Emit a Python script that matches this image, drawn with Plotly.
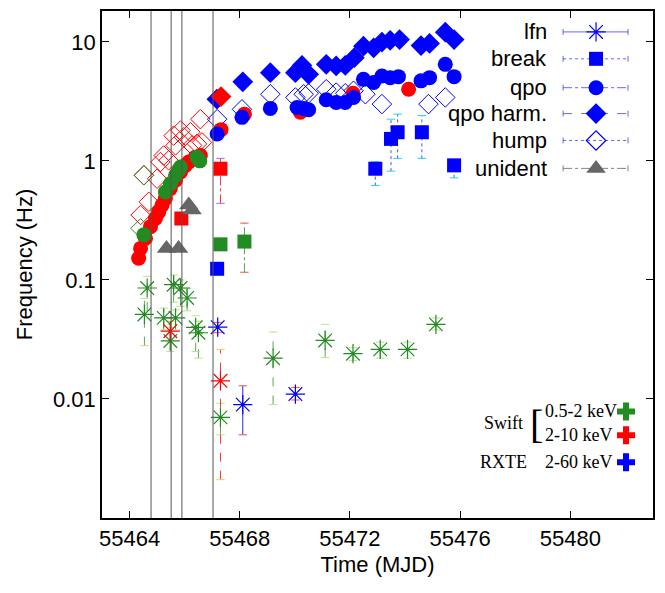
import plotly.graph_objects as go

GREEN = "#228B22"
RED = "#FF0000"
BLUE = "#0000FF"
GRAY = "#666666"

# ---------------- data (MJD, Hz) ----------------
# vertical reference lines (MJD)
vlines = [55464.78, 55465.51, 55465.90, 55467.03]

# lfn (asterisks)
lfn_g_x = [55464.64, 55464.54, 55465.60, 55465.85, 55466.09, 55465.24, 55465.67, 55465.48,
           55466.40, 55466.50, 55467.30, 55469.21, 55471.10, 55472.11, 55473.10, 55474.09, 55475.12]
lfn_g_y = [0.0855, 0.0513, 0.0912, 0.0855, 0.0705, 0.048, 0.048, 0.0307,
           0.040, 0.036, 0.0070, 0.022, 0.031, 0.024, 0.0261, 0.0261, 0.0423]
lfn_g_hi = [0.107, 0.070, 0.110, 0.100, 0.085, 0.058, 0.056, 0.040,
            0.050, 0.045, 0.0092, 0.0365, 0.0423, 0.027, 0.030, 0.030, 0.048]
lfn_g_lo = [0.055, 0.028, 0.065, 0.060, 0.055, 0.038, 0.038, 0.025,
            0.025, 0.022, 0.0050, 0.0090, 0.0223, 0.021, 0.022, 0.022, 0.038]

lfn_r_x = [55465.48, 55467.30]
lfn_r_y = [0.0371, 0.0142]
lfn_r_hi = [0.045, 0.0261]
lfn_r_lo = [0.030, 0.0021]

lfn_b_x = [55467.20, 55468.11, 55470.02]
lfn_b_y = [0.0401, 0.00896, 0.011]
lfn_b_hi = [0.044, 0.0129, 0.0125]
lfn_b_lo = [0.036, 0.0050, 0.0098]

# break (squares)
brk_g_x = [55467.30, 55468.17]
brk_g_y = [0.199, 0.210]
brk_g_hi = [0.215, 0.300]
brk_g_lo = [0.185, 0.116]

brk_r_x = [55465.88, 55467.30]
brk_r_y = [0.328, 0.859]
brk_r_hi = [0.36, 1.05]
brk_r_lo = [0.30, 0.44]

brk_b_x = [55467.18, 55472.92, 55473.49, 55473.73, 55474.61, 55475.78]
brk_b_y = [0.124, 0.859, 1.53, 1.74, 1.74, 0.917]
brk_b_hi = [0.13, 0.98, 2.24, 2.47, 2.40, 1.0]
brk_b_lo = [0.118, 0.62, 0.82, 1.05, 1.05, 0.72]

# qpo (circles)
qpo_g_x = [55464.52, 55465.30, 55465.48, 55465.67, 55465.79, 55465.85, 55466.45, 55466.55]
qpo_g_y = [0.239, 0.548, 0.643, 0.757, 0.838, 0.887, 1.075, 1.00]

qpo_r_x = [55464.33, 55464.40, 55464.58, 55464.76, 55464.94, 55465.06, 55465.18, 55465.30,
           55465.48, 55465.67, 55465.85, 55466.03, 55466.15, 55466.39, 55466.57,
           55467.32, 55468.17, 55470.20, 55472.11, 55474.13]
qpo_r_y = [0.152, 0.184, 0.224, 0.280, 0.328, 0.373, 0.425, 0.482,
           0.585, 0.687, 0.806, 0.917, 0.978, 1.075, 1.11,
           1.83, 2.47, 2.56, 3.70, 4.0]

qpo_b_x = [55467.18, 55468.08, 55469.11, 55470.08, 55470.32, 55470.50, 55471.14, 55471.50,
           55471.83, 55472.13, 55472.49, 55472.86, 55473.16, 55473.46, 55473.76, 55474.58,
           55474.89, 55475.46, 55475.78]
qpo_b_y = [1.68, 2.32, 2.76, 2.81, 2.76, 2.69, 3.26, 3.10,
           3.10, 3.41, 4.84, 4.55, 5.17, 5.0, 5.1, 4.70,
           5.0, 6.47, 5.1]

# qpo harmonic (filled diamonds)
har_r_x = [55467.32]
har_r_y = [3.47]
har_b_x = [55467.17, 55468.11, 55469.11, 55470.02, 55470.26, 55470.50, 55471.14, 55471.50,
           55471.83, 55472.16, 55472.49, 55472.86, 55473.16, 55473.46, 55473.80, 55474.58,
           55474.89, 55475.46, 55475.78]
har_b_y = [3.30, 4.61, 5.51, 5.51, 6.34, 5.33, 6.47, 6.27,
           6.34, 7.36, 9.2, 8.91, 9.95, 10.3, 10.45, 9.31,
           9.69, 12.05, 10.45]

# hump (open diamonds)
hum_g_x = [55464.40, 55464.52]
hum_g_y = [0.271, 0.757]
hum_r_x = [55464.40, 55464.70, 55464.52, 55465.00, 55465.12, 55465.24, 55465.42, 55465.60,
           55465.67, 55465.85, 55465.97, 55466.21, 55466.27, 55466.45, 55466.57, 55466.63]
hum_r_y = [0.351, 0.453, 0.757, 0.708, 0.978, 1.11, 1.01, 1.63,
           1.35, 1.80, 1.58, 1.74, 1.35, 1.39, 2.24, 1.43]
hum_b_x = [55467.18, 55468.08, 55469.11, 55470.02, 55470.32, 55470.50, 55471.14, 55471.50,
           55471.83, 55472.13, 55472.56, 55473.16, 55474.85, 55475.46]
hum_b_y = [2.24, 2.71, 3.63, 3.41, 3.63, 3.70, 4.0, 3.75,
           3.70, 3.88, 3.63, 3.0, 3.0, 3.41]

# unidentified (triangles)
uni_x = [55465.34, 55465.78, 55466.15, 55466.27]
uni_y = [0.184, 0.184, 0.425, 0.386]

# legend
leg_names = ["lfn", "break", "qpo", "qpo harm.", "hump", "unident"]
inst_labels = ["0.5-2 keV", "2-10 keV", "2-60 keV"]

# ---------------- figure ----------------
# page body has an 8px margin, so the figure is drawn 8px smaller and
# all pixel positions below are relative to the figure (window - 8)
FW, FH = 649, 577
fig = go.Figure()


def add_err(x, lo, hi, color, dash):
    xs, ys = [], []
    for xi, l, h in zip(x, lo, hi):
        xs += [xi, xi, None]
        ys += [l, h, None]
    fig.add_trace(go.Scatter(x=xs, y=ys, mode="lines", line=dict(color=color, width=1, dash=dash),
                             showlegend=False, hoverinfo="skip"))
    fig.add_trace(go.Scatter(x=list(x) + list(x), y=list(lo) + list(hi), mode="markers",
                             marker=dict(symbol="line-ew-open", size=6,
                                         line=dict(color=color, width=1)),
                             showlegend=False, hoverinfo="skip"))


def add(x, y, sym, color, size, open_=False, lw=1.2):
    if open_:
        marker = dict(symbol=sym, size=size, color=color, line=dict(color=color, width=lw))
    else:
        marker = dict(symbol=sym, size=size, color=color, line=dict(width=0))
    fig.add_trace(go.Scatter(x=x, y=y, mode="markers", marker=marker,
                             showlegend=False, hoverinfo="skip"))


# error bars
add_err(brk_g_x, brk_g_lo, brk_g_hi, "rgba(34,139,34,0.8)", "dashdot")
add_err(brk_r_x, brk_r_lo, brk_r_hi, "rgba(255,0,0,0.8)", "dashdot")
add_err(brk_b_x, brk_b_lo, brk_b_hi, "rgba(0,0,255,0.7)", "dot")
add_err(lfn_g_x, lfn_g_lo, lfn_g_hi, "rgba(34,139,34,0.75)", "dash")
add_err(lfn_r_x, lfn_r_lo, lfn_r_hi, "rgba(255,0,0,0.8)", "dash")
add_err(lfn_b_x, lfn_b_lo, lfn_b_hi, "rgba(0,0,255,0.85)", "solid")

# humps
add(hum_r_x, hum_r_y, "diamond-open", RED, 15, open_=True, lw=1)
add(hum_g_x, hum_g_y, "diamond-open", GREEN, 15, open_=True, lw=1)
add(hum_b_x, hum_b_y, "diamond-open", BLUE, 15, open_=True, lw=1)
# qpo
add(qpo_r_x, qpo_r_y, "circle", RED, 15)
add(qpo_b_x, qpo_b_y, "circle", BLUE, 15)
add(qpo_g_x, qpo_g_y, "circle", GREEN, 15)
# harmonics
add(har_b_x, har_b_y, "diamond", BLUE, 16)
add(har_r_x, har_r_y, "diamond", RED, 16)
# breaks
add(brk_g_x, brk_g_y, "square", GREEN, 14)
add(brk_r_x, brk_r_y, "square", RED, 14)
add(brk_b_x, brk_b_y, "square", BLUE, 14)
# unident
add(uni_x, uni_y, "triangle-up", GRAY, 17)
# lfn
add(lfn_g_x, lfn_g_y, "asterisk-open", GREEN, 16, open_=True, lw=1.2)
add(lfn_r_x, lfn_r_y, "asterisk-open", RED, 16, open_=True, lw=1.2)
add(lfn_b_x, lfn_b_y, "asterisk-open", BLUE, 16, open_=True, lw=1.2)

# vertical lines
for v in vlines:
    fig.add_shape(type="line", xref="x", yref="paper", x0=v, x1=v, y0=0, y1=1,
                  line=dict(color="#555555", width=1))

# ---------------- manual legend (paper coords) ----------------
OFF = 8
L, R, T, B = 101.5 - OFF, 653.0 - OFF, 8.0 - OFF + 1, 518.0 - OFF
W, H = R - L, B - T


def px(xp):
    return (xp - OFF - L) / W


def py(yp):
    return (B - (yp - OFF)) / H


leg_rows = [30, 57, 86, 112, 139, 167]
leg_syms = ["asterisk-open", "square", "circle", "diamond", "diamond-open", "triangle-up"]
leg_cols = [BLUE, BLUE, BLUE, BLUE, BLUE, GRAY]
leg_dash = ["solid", "dot", "dashdot", "dash", "dot", "dashdot"]
leg_sizes = [16, 14, 15, 16, 15, 17]
for name, row, sym, col, dash, sz in zip(leg_names, leg_rows, leg_syms, leg_cols, leg_dash, leg_sizes):
    fig.add_annotation(xref="paper", yref="paper", x=px(549), y=py(row), text=name,
                       showarrow=False, xanchor="right", yanchor="middle",
                       font=dict(family="Liberation Sans, Arial", size=22, color="black"))
    lc = "rgba(0,0,255,0.6)" if col == BLUE else "rgba(100,100,100,0.8)"
    fig.add_shape(type="line", xref="paper", yref="paper", x0=px(563), x1=px(628),
                  y0=py(row), y1=py(row), line=dict(color=lc, width=1, dash=dash))
    for xe in (563, 628):
        fig.add_shape(type="line", xref="paper", yref="paper", x0=px(xe), x1=px(xe),
                      y0=py(row - 3), y1=py(row + 3), line=dict(color=lc, width=1))
    op = sym.endswith("open")
    fig.add_trace(go.Scatter(x=[px(596)], y=[py(row)], xaxis="x2", yaxis="y2", mode="markers",
                             marker=dict(symbol=sym, size=sz, color=col,
                                         line=dict(color=col, width=1.2 if op else 0)),
                             showlegend=False, hoverinfo="skip"))

# instrument key
serif = "Liberation Serif, Times New Roman"
inst_rows = [411, 435, 462]
inst_cols = [GREEN, RED, BLUE]
for lab, row, col in zip(inst_labels, inst_rows, inst_cols):
    fig.add_annotation(xref="paper", yref="paper", x=px(543), y=py(row), text=lab,
                       showarrow=False, xanchor="left", yanchor="middle",
                       font=dict(family=serif, size=18, color="black"))
    fig.add_trace(go.Scatter(x=[px(626)], y=[py(row)], xaxis="x2", yaxis="y2", mode="markers",
                             marker=dict(symbol="cross", size=15, color=col, line=dict(width=0)),
                             showlegend=False, hoverinfo="skip"))
fig.add_annotation(xref="paper", yref="paper", x=px(525), y=py(423), text="Swift",
                   showarrow=False, xanchor="right", yanchor="middle",
                   font=dict(family=serif, size=18, color="black"))
fig.add_annotation(xref="paper", yref="paper", x=px(529), y=py(462), text="RXTE",
                   showarrow=False, xanchor="right", yanchor="middle",
                   font=dict(family=serif, size=18, color="black"))
fig.add_annotation(xref="paper", yref="paper", x=px(536), y=py(424), text="[",
                   showarrow=False, xanchor="center", yanchor="middle",
                   font=dict(family=serif, size=40, color="black"))

axis_font = dict(family="Liberation Sans, Arial", size=22, color="black")
fig.update_layout(
    width=FW, height=FH,
    margin=dict(l=L, r=FW - R, t=T, b=FH - B, pad=0),
    paper_bgcolor="white", plot_bgcolor="white",
    showlegend=False,
    xaxis=dict(range=[55463, 55483], tickmode="array",
               tickvals=[55464, 55468, 55472, 55476, 55480],
               ticktext=["55464", "55468", "55472", "55476", "55480"],
               ticks="inside", ticklen=7, tickwidth=1, tickcolor="black",
               mirror="ticks", showline=True, linecolor="black", linewidth=1.5,
               showgrid=False, zeroline=False, tickfont=axis_font,
               title=dict(text="Time (MJD)", font=axis_font, standoff=6)),
    yaxis=dict(type="log", range=[-3, 1.259], tickmode="array",
               tickvals=[0.01, 0.1, 1, 10], ticktext=["0.01", "0.1", "1", "10"],
               ticks="inside", ticklen=7, tickwidth=1, tickcolor="black",
               mirror="ticks", showline=True, linecolor="black", linewidth=1.5,
               showgrid=False, zeroline=False, tickfont=axis_font,
               title=dict(text="Frequency (Hz)", font=axis_font, standoff=14)),
    xaxis2=dict(overlaying="x", range=[0, 1], visible=False, anchor="y2"),
    yaxis2=dict(overlaying="y", range=[0, 1], visible=False, anchor="x2"),
)

fig.write_html("out.html")
